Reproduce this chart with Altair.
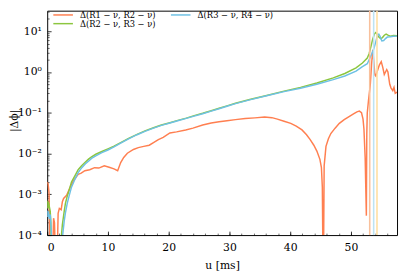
import altair as alt
import pandas as pd

# ---- data ----
u_r12 = [0.0, 0.15, 0.3, 0.45, 0.9, 1.05, 1.2, 1.35, 1.65, 1.8, 2.0, 2.3, 2.5, 2.7, 3.2, 3.8, 4.3,
         4.8, 5.1, 5.6, 6.2, 7.0, 7.8, 8.5, 9.4, 10.2, 11.0, 11.6, 12.1, 12.6, 13.2, 14.2, 15.0,
         15.9, 16.8, 17.5, 18.3, 19.1, 20.2, 21.3, 22.8, 24.0, 25.6, 27.0, 28.3, 29.6, 31.0, 32.6,
         34.2, 35.8, 37.0, 37.9, 39.0, 40.1, 41.0, 41.95, 42.7, 43.3, 43.9, 44.4, 44.9, 45.15,
         45.3, 45.4, 45.5, 45.6, 45.9, 46.3, 46.7, 47.4, 48.1, 48.9, 49.7, 50.5, 51.0, 51.4,
         51.75, 52.0, 52.15, 52.35, 52.55, 52.62, 52.7, 52.9, 53.2, 53.4, 53.6, 53.75, 53.95,
         54.1, 54.4, 54.7, 55.0, 55.25, 55.5, 55.9, 56.1, 56.4, 56.6, 56.9, 57.1, 57.3, 57.6]
v_r12 = [2.0e-3, 1.8e-3, 1.1e-3, 3e-5, 3e-5, 2.6e-4, 2.0e-4, 3e-5, 3e-5, 3.4e-4, 4.5e-4, 4.2e-4,
         6.6e-4, 7.9e-4, 9.5e-4, 1.5e-3, 2.1e-3, 2.7e-3, 3.1e-3, 3.3e-3, 3.8e-3, 4.0e-3, 4.5e-3,
         4.4e-3, 5.0e-3, 4.6e-3, 4.2e-3, 3.8e-3, 6.0e-3, 8.0e-3, 1.02e-2, 1.26e-2, 1.4e-2, 1.5e-2,
         1.6e-2, 1.85e-2, 2.2e-2, 2.5e-2, 3.2e-2, 3.4e-2, 3.8e-2, 4.2e-2, 5.0e-2, 5.6e-2, 6.0e-2,
         6.4e-2, 6.8e-2, 7.2e-2, 7.5e-2, 7.9e-2, 7.6e-2, 7.0e-2, 6.2e-2, 5.5e-2, 4.7e-2, 3.8e-2,
         2.9e-2, 2.2e-2, 1.6e-2, 1.15e-2, 7.2e-3, 4.5e-3, 1.5e-3, 3e-5, 3e-5, 5e-3, 1.5e-2,
         2.3e-2, 3.1e-2, 4.2e-2, 5.5e-2, 6.8e-2, 8.1e-2, 9.5e-2, 0.105, 0.11, 0.10, 0.07, 0.04,
         8e-3, 3e-4, 3e-2, 0.1, 0.2, 0.5, 1.5, 3.5, 2.0, 0.85, 0.8, 1.1, 1.5, 1.8, 1.3, 0.87,
         1.15, 1.0, 0.5, 0.41, 0.35, 0.42, 0.3, 0.32]

u_r23 = [0.0, 0.1, 0.2, 0.35, 0.5, 0.6, 0.7, 2.2, 2.35, 2.5, 2.8, 3.0, 3.3, 3.6, 4.0, 4.6, 5.1,
         5.7, 6.3, 6.8, 7.3, 8.0, 9.0, 10.0, 11.0, 12.1, 13.4, 14.8, 16.1, 17.5, 18.8, 20.2, 21.5,
         22.9, 24.2, 25.6, 27.0, 28.3, 29.6, 31.0, 33.5, 36.3, 39.0, 41.7, 44.4, 47.1, 49.0, 50.85,
         51.9, 52.7, 53.0, 53.3, 53.6, 53.9, 54.1, 54.3, 54.6, 54.9, 55.2, 55.5, 55.8, 56.1, 56.5,
         57.0, 57.6]
v_r23 = [7e-4, 4.5e-4, 6.5e-4, 5e-4, 3.8e-4, 2e-4, 3e-5, 3e-5, 1e-4, 1.8e-4, 3.8e-4, 6e-4, 9e-4,
         1.25e-3, 2.0e-3, 2.9e-3, 4.0e-3, 5.1e-3, 6.2e-3, 7.3e-3, 8.3e-3, 9.6e-3, 1.12e-2, 1.3e-2,
         1.52e-2, 1.85e-2, 2.35e-2, 2.95e-2, 3.6e-2, 4.3e-2, 5.0e-2, 5.7e-2, 6.5e-2, 7.4e-2,
         8.5e-2, 9.7e-2, 0.112, 0.129, 0.148, 0.172, 0.215, 0.27, 0.34, 0.42, 0.54, 0.72, 0.92,
         1.27, 1.66, 2.2, 2.8, 4.2, 6.5, 8.7, 9.3, 8.5, 7.2, 6.6, 7.0, 8.0, 8.5, 8.0, 7.6, 7.9, 7.8]

u_r34 = [0.0, 0.1, 0.2, 0.35, 0.5, 0.65, 0.8, 2.3, 2.55, 2.8, 3.0, 3.3, 3.6, 4.0, 4.6, 5.1, 5.7,
         6.3, 6.8, 7.3, 8.0, 9.0, 10.0, 11.0, 12.1, 13.4, 14.8, 16.1, 17.5, 18.8, 20.2, 21.5, 22.9,
         24.2, 25.6, 27.0, 28.3, 29.6, 31.0, 33.5, 36.3, 39.0, 41.7, 44.4, 47.1, 49.0, 50.85, 51.9,
         52.7, 53.0, 53.4, 53.8, 54.1, 54.4, 54.6, 54.8, 55.1, 55.4, 55.7, 56.0, 56.5, 57.0, 57.6]
v_r34 = [4e-4, 2.8e-4, 3.8e-4, 2.5e-4, 3.2e-4, 1.5e-4, 3e-5, 3e-5, 1e-4, 2.2e-4, 3.5e-4, 6e-4,
         9e-4, 1.5e-3, 2.4e-3, 3.4e-3, 4.5e-3, 5.6e-3, 6.5e-3, 7.6e-3, 8.8e-3, 1.05e-2, 1.22e-2,
         1.45e-2, 1.8e-2, 2.3e-2, 2.9e-2, 3.5e-2, 4.2e-2, 4.9e-2, 5.6e-2, 6.4e-2, 7.3e-2, 8.3e-2,
         9.5e-2, 0.11, 0.126, 0.145, 0.168, 0.21, 0.265, 0.33, 0.40, 0.50, 0.65, 0.80, 1.05, 1.36,
         1.6, 2.0, 2.7, 3.8, 5.5, 8.3, 8.5, 7.5, 5.8, 5.9, 6.6, 7.2, 7.3, 7.5, 7.6]

labels = ["Δ(R1 − ν, R2 − ν)", "Δ(R2 − ν, R3 − ν)", "Δ(R3 − ν, R4 − ν)"]
colors = ["#FF7F50", "#8CC63F", "#6EC1E4"]

vline_u = [53.1, 53.75, 54.3]
vline_colors = ["#F8C09C", "#BDE3F3", "#FFDFA0"]

x_major = [0, 10, 20, 30, 40, 50]
x_minor = list(range(0, 58, 2))
y_major = [1e-4, 1e-3, 1e-2, 1e-1, 1e0, 1e1]
y_minor = [m * 10.0 ** k for k in range(-4, 2) for m in range(2, 10) if m * 10.0 ** k < 32]

# ---- tables ----
rows = []
for lab, us, vs in zip(labels, [u_r12, u_r23, u_r34], [v_r12, v_r23, v_r34]):
    for i, (a, b) in enumerate(zip(us, vs)):
        rows.append({"u": a, "v": b, "series": lab, "i": i})
df = pd.DataFrame(rows)
df_v = pd.DataFrame({"u": vline_u, "c": vline_colors})
df_t = pd.DataFrame({"u": [0.0, 50.0], "v": [1e-3, 1.0]})

FONT = "DejaVu Serif"
xs = alt.Scale(domain=[0, 57.6], nice=False, zero=False)
ys = alt.Scale(type="log", domain=[1e-4, 32], nice=False)

label_expr = ("datum.value >= 5 ? '10¹' : datum.value >= 0.5 ? '10⁰' : datum.value >= 0.05 ? '10⁻¹'"
              " : datum.value >= 0.005 ? '10⁻²' : datum.value >= 0.0005 ? '10⁻³' : '10⁻⁴'")

lines = alt.Chart(df).mark_line(strokeWidth=1.5, clip=True).encode(
    x=alt.X("u:Q", scale=xs, axis=alt.Axis(orient="bottom", values=x_major, ticks=False, tickSize=0,
                                          domain=False, grid=False, title="u [ms]", format="d",
                                          labelPadding=7, titlePadding=7)),
    y=alt.Y("v:Q", scale=ys, axis=alt.Axis(orient="left", values=y_major, ticks=False, tickSize=0,
                                          domain=False, grid=False, title="|Δϕ|", labelExpr=label_expr,
                                          labelPadding=6, titleX=-33, titleY=112, titleAngle=270,
                                          titleAlign="center", titleBaseline="middle")),
    color=alt.Color("series:N",
                    scale=alt.Scale(domain=labels, range=colors),
                    legend=alt.Legend(title=None, orient="none", legendX=12, legendY=0, columns=2,
                                      symbolType="M-4,0H4", symbolSize=25, symbolStrokeWidth=1.5,
                                      labelFont=FONT, labelFontSize=8.5, labelOffset=13,
                                      columnPadding=12, rowPadding=-0.5, padding=0,
                                      labelColor="black")),
    order="i:Q",
)

rules = alt.Chart(df_v).mark_rule(strokeWidth=1.6).encode(
    x=alt.X("u:Q", scale=xs, axis=None),
    color=alt.Color("c:N", scale=None),
)

major = alt.Chart(df_t).mark_point(opacity=0).encode(
    x=alt.X("u:Q", scale=xs, axis=alt.Axis(orient="bottom", values=x_major, labels=False, domain=False,
                                          grid=False, title="", tickSize=4, offset=-4, tickWidth=0.8)),
    y=alt.Y("v:Q", scale=ys, axis=alt.Axis(orient="left", values=y_major, labels=False, domain=False,
                                          grid=False, title="", tickSize=4, offset=-4, tickWidth=0.8)),
)
minor = alt.Chart(df_t).mark_point(opacity=0).encode(
    x=alt.X("u:Q", scale=xs, axis=alt.Axis(orient="bottom", values=x_minor, labels=False, domain=False,
                                          grid=False, title="", tickSize=2, offset=-2, tickWidth=0.6)),
    y=alt.Y("v:Q", scale=ys, axis=alt.Axis(orient="left", values=y_minor, labels=False, domain=False,
                                          grid=False, title="", tickSize=2, offset=-2, tickWidth=0.6)),
)

chart = alt.layer(lines, rules, major, minor).resolve_axis(
    x="independent", y="independent"
).properties(
    width=357, height=229,
    autosize=alt.AutoSizeParams(type="none"),
    padding={"left": 40, "top": 0, "right": 2, "bottom": 37},
).configure_view(
    stroke="black", strokeWidth=1
).configure_axis(
    labelFont=FONT, titleFont=FONT, labelFontSize=11, titleFontSize=11,
    labelColor="black", titleColor="black", tickColor="black", titleFontWeight="normal"
)

chart.save("out.html", embed_options={"renderer": "svg", "actions": False})
